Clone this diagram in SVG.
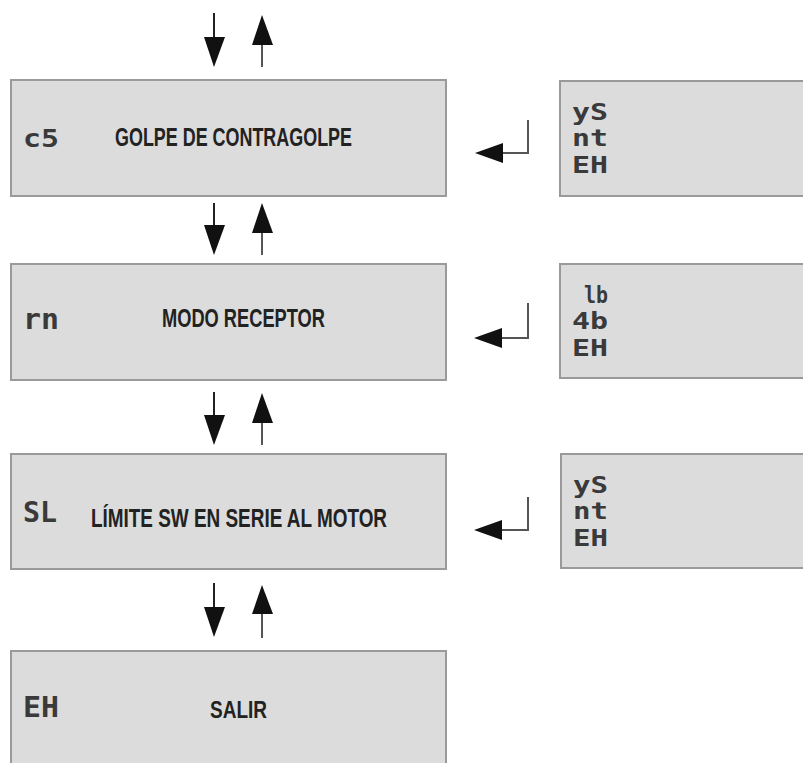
<svg xmlns="http://www.w3.org/2000/svg" width="803" height="763" viewBox="0 0 803 763">
<defs>
<style>
.box{fill:#dcdcdc;stroke:#9a9a9a;stroke-width:2}
.lbl{font-family:"Liberation Sans Narrow","Liberation Sans",Arial,sans-serif;font-weight:bold;fill:#222}
.code{font-family:"DejaVu Sans Mono","Liberation Mono",monospace;font-weight:bold;fill:#3a3a3a}
.opt{font-size:23px}
.dn{stroke:#222;stroke-width:2;fill:none}
.up{stroke:#555;stroke-width:2;fill:none}
.head{fill:#111}
</style>
</defs>
<rect width="803" height="763" fill="#ffffff"/>

<g id="node-cs">
<rect class="box" x="11" y="80" width="435" height="116"/>
<text class="code" x="23" y="147" font-size="24" textLength="36" lengthAdjust="spacingAndGlyphs">c5</text>
<text class="lbl" x="115" y="146" font-size="25" textLength="237" lengthAdjust="spacingAndGlyphs">GOLPE DE CONTRAGOLPE</text>
</g>
<g id="node-cs-opts">
<rect class="box" x="560" y="81" width="260" height="115"/>
<text class="code opt" x="572" y="120" textLength="36" lengthAdjust="spacingAndGlyphs">yS</text>
<text class="code opt" x="572" y="146" textLength="36" lengthAdjust="spacingAndGlyphs">nt</text>
<text class="code opt" x="572" y="173" textLength="36" lengthAdjust="spacingAndGlyphs">EH</text>
</g>

<g id="node-rn">
<rect class="box" x="11" y="264" width="435" height="116"/>
<text class="code" x="23" y="329" font-size="28" textLength="36" lengthAdjust="spacingAndGlyphs">rn</text>
<text class="lbl" x="162" y="327" font-size="26" textLength="163" lengthAdjust="spacingAndGlyphs">MODO RECEPTOR</text>
</g>
<g id="node-rn-opts">
<rect class="box" x="560" y="264" width="260" height="114"/>
<text class="code opt" x="584" y="303" textLength="24" lengthAdjust="spacingAndGlyphs">lb</text>
<text class="code opt" x="572" y="329" textLength="36" lengthAdjust="spacingAndGlyphs">4b</text>
<text class="code opt" x="572" y="356" textLength="36" lengthAdjust="spacingAndGlyphs">EH</text>
</g>

<g id="node-sl">
<rect class="box" x="11" y="454" width="435" height="115"/>
<text class="code" x="23" y="522" font-size="28" textLength="34" lengthAdjust="spacingAndGlyphs">SL</text>
<text class="lbl" x="91" y="527" font-size="26" textLength="296" lengthAdjust="spacingAndGlyphs">LÍMITE SW EN SERIE AL MOTOR</text>
</g>
<g id="node-sl-opts">
<rect class="box" x="561" y="454" width="260" height="114"/>
<text class="code opt" x="573" y="493" textLength="35" lengthAdjust="spacingAndGlyphs">yS</text>
<text class="code opt" x="573" y="519" textLength="35" lengthAdjust="spacingAndGlyphs">nt</text>
<text class="code opt" x="573" y="546" textLength="35" lengthAdjust="spacingAndGlyphs">EH</text>
</g>

<g id="node-eh">
<rect class="box" x="11" y="651" width="435" height="130"/>
<text class="code" x="23" y="717" font-size="28" textLength="36" lengthAdjust="spacingAndGlyphs">EH</text>
<text class="lbl" x="210" y="718" font-size="23" textLength="57" lengthAdjust="spacingAndGlyphs">SALIR</text>
</g>

<g id="connectors">
<line class="dn" x1="214" y1="13" x2="214" y2="40"/>
<polygon class="head" points="204,37 225,37 214,67"/>
<line class="up" x1="262" y1="42" x2="262" y2="67"/>
<polygon class="head" points="252,45 273,45 262,15"/>
<line class="dn" x1="214" y1="203" x2="214" y2="228"/>
<polygon class="head" points="204,225 225,225 214,255"/>
<line class="up" x1="262" y1="230" x2="262" y2="255"/>
<polygon class="head" points="252,233 273,233 262,203"/>
<line class="dn" x1="214" y1="392" x2="214" y2="418"/>
<polygon class="head" points="204,415 225,415 214,445"/>
<line class="up" x1="262" y1="420" x2="262" y2="445"/>
<polygon class="head" points="252,423 273,423 262,393"/>
<line class="dn" x1="214" y1="583" x2="214" y2="610"/>
<polygon class="head" points="204,607 225,607 214,637"/>
<line class="up" x1="262" y1="612" x2="262" y2="638"/>
<polygon class="head" points="252,614 273,614 262,585"/>
<polyline class="up" points="528,120 528,153 500,153"/>
<polygon class="head" points="475,153 503,143 503,163"/>
<polyline class="up" points="528,303 528,338 500,338"/>
<polygon class="head" points="474,338 502,328 502,348"/>
<polyline class="up" points="528,497 528,530 500,530"/>
<polygon class="head" points="474,530 502,520 502,540"/>
</g>
</svg>
